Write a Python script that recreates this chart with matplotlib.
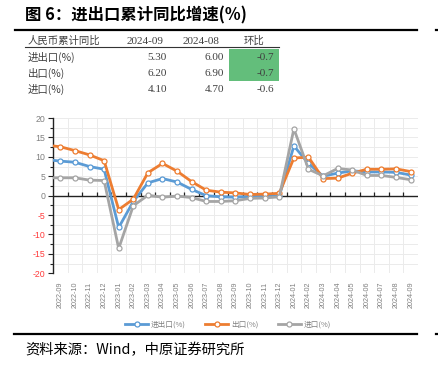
import matplotlib
matplotlib.use("Agg")
import matplotlib.pyplot as plt
from matplotlib.lines import Line2D
from matplotlib.patches import Rectangle
from matplotlib.ticker import MultipleLocator
import numpy as np

plt.rcParams['font.family'] = ['Noto Sans CJK SC', 'DejaVu Sans']

# ---- data ----
months = ["2022-08",
          "2022-09", "2022-10", "2022-11", "2022-12",
          "2023-01", "2023-02", "2023-03", "2023-04", "2023-05", "2023-06",
          "2023-07", "2023-08", "2023-09", "2023-10", "2023-11", "2023-12",
          "2024-01", "2024-02", "2024-03", "2024-04", "2024-05", "2024-06",
          "2024-07", "2024-08", "2024-09"]
total = [9.3,
         8.9, 8.6, 7.5, 6.8, -8.2, -1.5, 3.3, 4.4, 3.5, 1.6, 0.0, -0.3,
         -0.4, -0.2, -0.1, -0.1, 12.8, 8.3, 5.0, 5.8, 6.4, 6.1, 6.1, 6.0, 5.3]
exports = [13.0,
           12.6, 11.6, 10.5, 9.0, -3.6, -0.9, 5.9, 8.3, 6.3, 3.6, 1.4, 0.9,
           0.7, 0.3, 0.4, 0.6, 9.7, 9.9, 4.4, 4.5, 5.8, 6.8, 6.8, 6.9, 6.2]
imports = [4.6,
           4.6, 4.6, 4.0, 3.9, -13.6, -2.6, 0.1, -0.4, -0.1, -0.5, -1.5, -1.5,
           -1.3, -0.7, -0.6, -0.3, 17.2, 6.8, 5.1, 7.0, 6.6, 5.2, 5.2, 4.7, 4.1]
series_names = ["进出口(%)", "出口(%)", "进口(%)"]
series_colors = ["#5b9bd5", "#ed7d31", "#a5a5a5"]

table_header = ["人民币累计同比", "2024-09", "2024-08", "环比"]
table_rows = ["进出口(%)", "出口(%)", "进口(%)"]
table_sep = ["5.30", "6.20", "4.10"]
table_aug = ["6.00", "6.90", "4.70"]
table_chg = ["-0.7", "-0.7", "-0.6"]
table_highlight = [True, True, False]

W, H = 439, 367
fig = plt.figure(figsize=(W / 100, H / 100), dpi=100)

def fx(px):
    return px / W

def fy(py):
    return 1 - py / H

# ---- title ----
fig.text(fx(25), fy(15), "图 6：进出口累计同比增速(%)", fontsize=11.8, fontweight='bold',
         va='center', ha='left', color='black')
fig.add_artist(Line2D([fx(15), fx(417)], [fy(30), fy(30)], color='black', lw=1.6))
fig.add_artist(Line2D([fx(436), fx(438)], [fy(30), fy(30)], color='black', lw=1.6))

# ---- table ----
tcol = "#404040"
serif = ['Liberation Serif', 'DejaVu Serif']
fig.text(fx(28), fy(41), table_header[0], fontsize=7.5, color=tcol, va='center', ha='left')
fig.text(fx(145), fy(41), table_header[1], fontsize=8, color=tcol, va='center', ha='center', family=serif)
fig.text(fx(201), fy(41), table_header[2], fontsize=8, color=tcol, va='center', ha='center', family=serif)
fig.text(fx(254), fy(41), table_header[3], fontsize=7.5, color=tcol, va='center', ha='center')
fig.add_artist(Line2D([fx(25), fx(279)], [fy(46.5), fy(46.5)], color='#333333', lw=0.8))
row_y = [57, 73, 89]
for i, name in enumerate(table_rows):
    y = row_y[i]
    if table_highlight[i]:
        fig.add_artist(Rectangle((fx(229), fy(y + 8.2)), fx(279) - fx(229), fy(y - 8.2) - fy(y + 8.2),
                                 transform=fig.transFigure, color='#63be7b', lw=0, zorder=0))
    fig.text(fx(28), fy(y), name, fontsize=7.5, color=tcol, va='center', ha='left')
    fig.text(fx(167), fy(y), table_sep[i], fontsize=8, color=tcol, va='center', ha='right', family=serif)
    fig.text(fx(224), fy(y), table_aug[i], fontsize=8, color=tcol, va='center', ha='right', family=serif)
    fig.text(fx(274), fy(y), table_chg[i], fontsize=8, color=tcol, va='center', ha='right', family=serif)

# ---- chart ----
ax = fig.add_axes([fx(53), fy(273.3), fx(418) - fx(53), fy(118) - fy(273.3)])
x = np.arange(len(months))
for vals, col, name in zip([total, exports, imports], series_colors, series_names):
    ax.plot(x, vals, color=col, lw=2.0, marker='o', markersize=3.6,
            markerfacecolor='white', markeredgecolor=col, markeredgewidth=0.9,
            label=name, clip_on=True, zorder=3)

ax.set_xlim(0.5, len(months) - 0.5)
ax.set_ylim(-20, 20)

# grid
for yv in np.arange(-20, 20.01, 2.5):
    ax.axhline(yv, color='#ebebeb', lw=0.7, zorder=0)
for xv in np.arange(0.5, len(months), 1.0):
    ax.axvline(xv, color='#ebebeb', lw=0.7, zorder=0)

# zero axis with upward tick marks
ax.axhline(0, color='#222222', lw=1.0, zorder=2)
for xv in np.arange(1.5, len(months) - 0.5, 1.0):
    ax.plot([xv, xv], [0, 0.9], color='#222222', lw=0.9, zorder=2, solid_capstyle='butt')

for s in ['top', 'right', 'bottom']:
    ax.spines[s].set_visible(False)
ax.spines['left'].set_color('#222222')
ax.spines['left'].set_linewidth(1.0)

yt = np.arange(-20, 20.01, 5)
ax.set_yticks(yt)
ax.yaxis.set_minor_locator(MultipleLocator(2.5))
ax.set_yticklabels([f"{int(v)}" for v in yt], family=['Liberation Sans'])
ax.tick_params(axis='y', which='major', length=3.5, width=0.8, color='#222222',
               labelsize=6.3, pad=2)
ax.tick_params(axis='y', which='minor', length=2, width=0.8, color='#222222')
for lbl, v in zip(ax.get_yticklabels(), yt):
    lbl.set_color('#ff3b3b' if v < 0 else '#808080')

ax.set_xticks(x[1:])
ax.set_xticklabels(months[1:], rotation=90, fontsize=5.2, color='#808080', family=['Liberation Sans'])
ax.tick_params(axis='x', length=0, pad=6)

# legend
handles = [Line2D([], [], color=c, lw=2.0, marker='o', markersize=3.6, markerfacecolor='white',
                  markeredgecolor=c, markeredgewidth=0.9) for c in series_colors]
leg = fig.legend(handles, series_names, loc='center', bbox_to_anchor=(fx(228), fy(325)), ncol=3,
                 frameon=False, fontsize=5.5, handlelength=3.0, columnspacing=2.5, handletextpad=0.4)
for t in leg.get_texts():
    t.set_color('#808080')

# bottom line and source
fig.add_artist(Line2D([fx(14), fx(417)], [fy(334), fy(334)], color='black', lw=1.6))
fig.add_artist(Line2D([fx(436), fx(438)], [fy(334), fy(334)], color='black', lw=1.6))
fig.text(fx(25), fy(350), "资料来源：Wind，中原证券研究所", fontsize=10.3, va='center', ha='left',
         color='black')

fig.savefig("out.png", dpi=100)
